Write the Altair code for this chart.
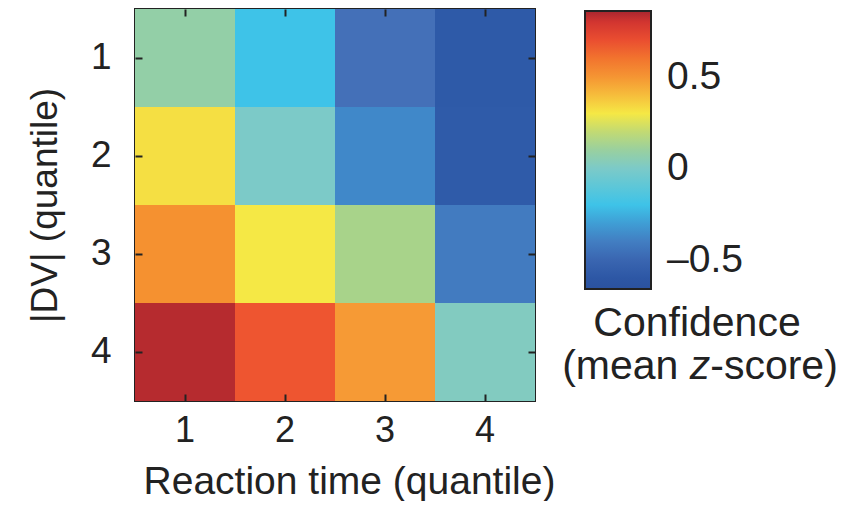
import altair as alt
import pandas as pd

# Reaction-time quantile (columns) and |DV| quantile (rows)
rt_quantiles = [1, 2, 3, 4]
dv_quantiles = [1, 2, 3, 4]
# mean confidence z-score, one list per |DV| quantile row
row_1 = [0.08, -0.20, -0.45, -0.57]
row_2 = [0.32, 0.00, -0.36, -0.56]
row_3 = [0.52, 0.30, 0.15, -0.41]
row_4 = [0.84, 0.67, 0.48, 0.02]
rows = [row_1, row_2, row_3, row_4]

# muted jet-like colormap (stops)
cmap_values = [-0.66, -0.55, -0.45, -0.35, -0.20, 0.0, 0.15, 0.30, 0.48, 0.55, 0.67, 0.78, 0.86]
cmap_colors = ["#2b529f", "#2f5caa", "#4470b8", "#3f8bcb", "#3ec3e8", "#7ccac8",
               "#a8d38a", "#f5e845", "#f69a35", "#f48a2d", "#ee5530", "#e03a30", "#a8262f"]
legend_ticks = [-0.5, 0, 0.5]

# colour-bar title pieces (second line has an italic "z")
cbar_title_line1 = ["Confidence"]
cbar_title_pre = ["(mean"]
cbar_title_z = ["z"]
cbar_title_post = ["-score)"]

records = []
for dv, vals in zip(dv_quantiles, rows):
    for rt, v in zip(rt_quantiles, vals):
        records.append({"rt": rt, "dv": dv, "z": v})
df = pd.DataFrame(records)

FONT = "Liberation Sans"
TXT = "#222222"
TFS = 41

color = alt.Color(
    "z:Q",
    scale=alt.Scale(domain=cmap_values, range=cmap_colors, interpolate="rgb"),
    legend=alt.Legend(
        title=None,
        orient="none",
        legendX=450,
        legendY=2,
        direction="vertical",
        gradientLength=278,
        gradientThickness=66,
        gradientStrokeColor=TXT,
        gradientStrokeWidth=2,
        values=legend_ticks,
        labelExpr="datum.value < 0 ? '\u2013' + format(-datum.value, '.1f') : (datum.value == 0 ? '0' : format(datum.value, '.1f'))",
        labelFont=FONT,
        labelFontSize=39,
        labelColor=TXT,
        labelOffset=16,
        labelLimit=400,
    ),
)

base = alt.Chart(df)

main = base.mark_rect().encode(
    x=alt.X("rt:O", sort=rt_quantiles,
            axis=alt.Axis(title="Reaction time (quantile)", labelAngle=0, domain=False,
                          ticks=True, tickSize=7, tickWidth=2, tickColor=TXT, offset=-7,
                          labelPadding=12, labelFont=FONT, labelFontSize=36, labelColor=TXT,
                          titleFont=FONT, titleFontSize=39, titleFontWeight="normal",
                          titleColor=TXT, titlePadding=14, titleX=214, titleAlign="center")),
    y=alt.Y("dv:O", sort=dv_quantiles,
            axis=alt.Axis(title="|DV|  (quantile)", domain=False,
                          ticks=True, tickSize=7, tickWidth=2, tickColor=TXT, offset=-7,
                          labelPadding=24, labelFont=FONT, labelFontSize=37, labelColor=TXT,
                          titleFont=FONT, titleFontSize=37, titleFontWeight="normal",
                          titleColor=TXT, titlePadding=26)),
    color=color,
)

mirror = base.mark_rect(opacity=0).encode(
    x=alt.X("rt:O", sort=rt_quantiles,
            axis=alt.Axis(orient="top", title=None, labels=False, domain=False,
                          tickSize=7, tickWidth=2, tickColor=TXT, offset=-7)),
    y=alt.Y("dv:O", sort=dv_quantiles,
            axis=alt.Axis(orient="right", title=None, labels=False, domain=False,
                          tickSize=7, tickWidth=2, tickColor=TXT, offset=-7)),
)

# colour-bar title, placed below the colour bar (pixel positions relative to the plot area)
Z_X = 565
Z_HALF = TFS * 0.25
SPACE = TFS * 0.278
line1 = alt.Chart(pd.DataFrame({"t": cbar_title_line1})).mark_text(
    font=FONT, fontSize=TFS, color=TXT, align="center", baseline="middle"
).encode(text="t:N", x=alt.value(562), y=alt.value(315))
pre = alt.Chart(pd.DataFrame({"t": cbar_title_pre})).mark_text(
    font=FONT, fontSize=TFS, color=TXT, align="right", baseline="middle"
).encode(text="t:N", x=alt.value(Z_X - Z_HALF - SPACE), y=alt.value(358))
zed = alt.Chart(pd.DataFrame({"t": cbar_title_z})).mark_text(
    font=FONT, fontSize=TFS, color=TXT, align="center", baseline="middle", fontStyle="italic"
).encode(text="t:N", x=alt.value(Z_X), y=alt.value(358))
post = alt.Chart(pd.DataFrame({"t": cbar_title_post})).mark_text(
    font=FONT, fontSize=TFS, color=TXT, align="left", baseline="middle"
).encode(text="t:N", x=alt.value(Z_X + Z_HALF), y=alt.value(358))

chart = (
    alt.layer(main, mirror, line1, pre, zed, post)
    .resolve_axis(x="independent", y="independent")
    .properties(width=400, height=392, padding={"left": 18, "top": 0, "right": 0, "bottom": 0})
    .configure_view(stroke=TXT, strokeWidth=2)
    .configure_scale(bandPaddingInner=0, bandPaddingOuter=0)
)

chart.save("out.html", embed_options={"renderer": "svg", "actions": False})
